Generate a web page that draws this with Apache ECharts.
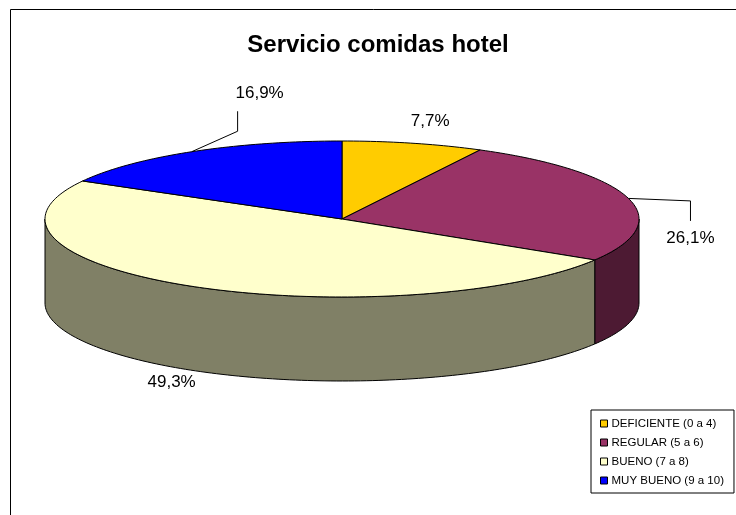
<!DOCTYPE html>
<html>
<head>
<meta charset="utf-8">
<script src="https://cdn.jsdelivr.net/npm/echarts@6/dist/echarts.min.js"></script>
<style>
  html, body { margin: 0; padding: 0; background: #fff; }
  #chart { width: 736px; height: 515px; }
</style>
</head>
<body>
<div id="chart"></div>
<script>
// data
const categories = ['DEFICIENTE (0 a 4)', 'REGULAR (5 a 6)', 'BUENO (7 a 8)', 'MUY BUENO (9 a 10)']
const values = [7.7, 26.1, 49.3, 16.9]
const topColors = ['#FFCC00', '#993366', '#FFFFCC', '#0000FF']
const sideColors = ['#806600', '#4D1A33', '#808066', '#000080']

// label placement relative to the slice's mid point on the rim
const labelOffsets = [[17, -22], [62, 40], [-20, 96], [68, -58]]
// leader lines: null = none, else x shift of the attach point from the label centre
const leaderAttach = [null, 0, null, -22]

// pie geometry (3d ellipse look, like the excel chart)
const CX = 342
const CY = 219
const RX = 297
const RY = 78
const DEPTH = 84

const total = values.reduce((a, b) => a + b, 0)
const starts = []
let acc = 0
values.forEach(v => { starts.push(acc); acc += v })

function pt (a, dy) {
  return [CX + RX * Math.sin(a), CY - RY * Math.cos(a) + (dy || 0)]
}

function arc (a0, a1, dy) {
  const pts = []
  const n = Math.max(2, Math.ceil((a1 - a0) / 0.02))
  for (let k = 0; k <= n; k++) {
    pts.push(pt(a0 + (a1 - a0) * k / n, dy))
  }
  return pts
}

function makeRender (i) {
  return function (params, api) {
    const v = api.value(0)
    const a0 = starts[i] / total * Math.PI * 2
    const a1 = (starts[i] + v) / total * Math.PI * 2
    const children = []
    // outer wall, only the front half is seen
    const s0 = Math.max(a0, Math.PI / 2)
    const s1 = Math.min(a1, Math.PI * 3 / 2)
    if (s1 > s0) {
      const up = arc(s0, s1, 0)
      const down = arc(s0, s1, DEPTH).reverse()
      children.push({
        type: 'polygon',
        z2: 1,
        shape: { points: up.concat(down) },
        style: { fill: sideColors[i], stroke: '#000', lineWidth: 1 }
      })
    }
    // top face
    children.push({
      type: 'polygon',
      z2: 2,
      shape: { points: [[CX, CY]].concat(arc(a0, a1, 0)) },
      style: { fill: topColors[i], stroke: '#000', lineWidth: 1, lineJoin: 'round' }
    })
    // label
    const mid = (a0 + a1) / 2
    const anchor = pt(mid, 0)
    const lx = anchor[0] + labelOffsets[i][0]
    const ly = anchor[1] + labelOffsets[i][1]
    children.push({
      type: 'text',
      z2: 3,
      style: {
        text: v.toFixed(1).replace('.', ',') + '%',
        x: lx,
        y: ly,
        align: 'center',
        verticalAlign: 'middle',
        fill: '#000',
        font: '17px "Liberation Sans", Arial, sans-serif'
      }
    })
    if (leaderAttach[i] !== null) {
      const sign = anchor[1] < ly ? -1 : 1
      const x = lx + leaderAttach[i]
      const p1 = [x, ly + sign * 17.5]
      const p2 = [x, p1[1] + sign * 20]
      children.push({
        type: 'polyline',
        z2: 3,
        shape: { points: [p1, p2, anchor] },
        style: { stroke: '#000', lineWidth: 1, fill: null }
      })
    }
    return { type: 'group', children: children }
  }
}

const series = categories.map((name, i) => ({
  type: 'custom',
  name: name,
  coordinateSystem: 'none',
  renderItem: makeRender(i),
  itemStyle: { color: topColors[i] },
  data: [values[i]],
  silent: true
}))

const chart = echarts.init(document.getElementById('chart'), null, { renderer: 'canvas' })
chart.setOption({
  animation: false,
  backgroundColor: '#fff',
  title: {
    text: 'Servicio comidas hotel',
    left: 373,
    top: 28,
    textAlign: 'center',
    textStyle: {
      fontFamily: 'Liberation Sans, Arial, sans-serif',
      fontSize: 24,
      fontWeight: 'bold',
      color: '#000'
    }
  },
  legend: {
    orient: 'vertical',
    left: 591,
    top: 410,
    data: categories,
    icon: 'rect',
    itemWidth: 7,
    itemHeight: 7,
    itemGap: 6,
    padding: [7, 10, 6, 9],
    backgroundColor: '#fff',
    borderColor: '#000',
    borderWidth: 1,
    itemStyle: { borderColor: '#000', borderWidth: 1 },
    textStyle: {
      fontFamily: 'Liberation Sans, Arial, sans-serif',
      fontSize: 11.5,
      lineHeight: 13,
      color: '#000',
      padding: [0, 0, 0, -1]
    },
    selectedMode: false
  },
  graphic: [{
    type: 'rect',
    left: 8,
    top: 7,
    silent: true,
    shape: { width: 740, height: 520 },
    style: { fill: null, stroke: '#000', lineWidth: 1 }
  }],
  series: series
})
</script>
</body>
</html>
